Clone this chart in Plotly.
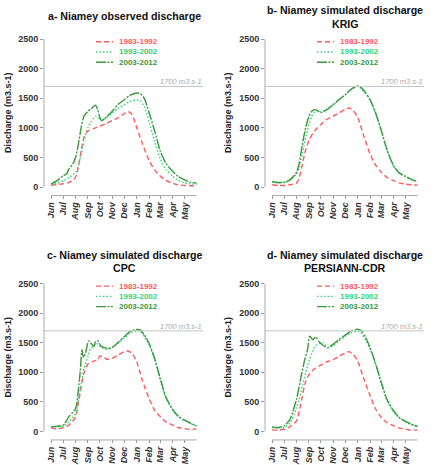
import plotly.graph_objects as go
import pandas as pd

# ---------------- data ----------------
MONTH_LABELS = ["Jun", "Jul", "Aug", "Sep", "Oct", "Nov", "Dec", "Jan", "Feb", "Mar", "Apr", "May"]
MONTH_NUMS = [6, 7, 8, 9, 10, 11, 12, 1, 2, 3, 4, 5]
Y_TICKS = [0, 500, 1000, 1500, 2000, 2500]
THRESHOLD = 1700
PERIODS = ["1983-1992", "1993-2002", "2003-2012"]

# Panel a - observed
a_red_dates = ["06-01", "06-15", "07-01", "07-15", "07-25", "08-01", "08-08", "08-15", "08-22", "09-01", "09-15", "10-01", "10-15",
               "11-01", "11-15", "12-01", "12-10", "12-20", "01-01", "01-15", "02-01", "02-15", "03-01", "03-15", "04-01", "04-15",
               "05-01", "05-15", "05-31"]
a_red_vals = [28, 45, 56, 78, 111, 167, 334, 613, 836, 947, 986, 1030, 1070,
              1125, 1170, 1242, 1275, 1230, 1010, 740, 450, 290, 185, 115, 67, 39,
              28, 22, 25]
a_lg_dates = ["06-01", "06-15", "07-01", "07-15", "08-01", "08-08", "08-15", "08-22", "09-01", "09-10", "09-20", "10-01", "10-05",
              "10-15", "11-01", "11-15", "12-01", "12-15", "01-01", "01-10", "01-20", "02-01", "02-15", "03-01", "03-15", "04-01",
              "04-15", "05-01", "05-15", "05-31"]
a_lg_vals = [45, 67, 105, 160, 250, 362, 557, 780, 1003, 1114, 1195, 1145, 1125,
             1165, 1250, 1325, 1393, 1448, 1470, 1455, 1360, 1100, 770, 480, 300, 184,
             111, 72, 56, 45]
a_dg_dates = ["06-01", "06-15", "07-01", "07-10", "07-15", "07-25", "08-01", "08-08", "08-15", "08-22", "09-01", "09-10", "09-15",
              "09-20", "09-25", "10-01", "10-05", "10-15", "11-01", "11-15", "12-01", "12-15", "01-01", "01-10", "01-20", "02-01",
              "02-15", "03-01", "03-15", "04-01", "04-15", "05-01", "05-15", "05-31"]
a_dg_vals = [56, 105, 190, 225, 300, 390, 500, 724, 1003, 1198, 1281, 1326, 1360,
             1385, 1310, 1170, 1125, 1170, 1281, 1393, 1476, 1549, 1590, 1577, 1500, 1260,
             950, 610, 405, 267, 178, 123, 84, 67]

# Panel b - KRIG
b_red_dates = ["06-01", "06-15", "07-01", "07-15", "08-01", "08-08", "08-15", "08-22", "09-01", "09-15", "10-01", "10-15", "11-01",
               "11-15", "12-01", "12-10", "12-20", "01-01", "01-15", "02-01", "02-15", "03-01", "03-15", "04-01", "04-15", "05-01",
               "05-15", "05-31"]
b_red_vals = [39, 28, 28, 39, 67, 167, 362, 585, 790, 947, 1058, 1142, 1198,
              1253, 1309, 1337, 1295, 1180, 890, 560, 370, 251, 167, 111, 72, 50,
              39, 33]
b_lg_dates = ["06-01", "06-15", "07-01", "07-15", "08-01", "08-08", "08-15", "08-22", "09-01", "09-10", "09-15", "09-20", "10-01",
              "10-15", "11-01", "11-15", "12-01", "12-15", "01-01", "01-10", "01-20", "02-01", "02-15", "03-01", "03-15", "04-01",
              "04-15", "05-01", "05-15", "05-31"]
b_lg_vals = [84, 72, 78, 111, 223, 334, 557, 780, 1058, 1225, 1270, 1292, 1270,
             1309, 1393, 1476, 1560, 1643, 1700, 1665, 1590, 1470, 1240, 950, 630, 350,
             235, 175, 128, 90]
b_dg_dates = ["06-01", "06-15", "07-01", "07-15", "08-01", "08-08", "08-15", "08-22", "09-01", "09-08", "09-15", "09-20", "10-01",
              "10-15", "11-01", "11-15", "12-01", "12-15", "01-01", "01-10", "01-20", "02-01", "02-15", "03-01", "03-15", "04-01",
              "04-15", "05-01", "05-15", "05-31"]
b_dg_vals = [95, 78, 84, 123, 250, 418, 696, 947, 1198, 1281, 1309, 1300, 1260,
             1304, 1393, 1476, 1560, 1650, 1710, 1680, 1600, 1480, 1250, 960, 640, 360,
             240, 180, 132, 92]

# Panel c - CPC
c_red_dates = ["06-01", "06-15", "07-01", "07-15", "08-01", "08-08", "08-15", "08-22", "09-01", "09-15", "09-25", "10-01", "10-10",
               "10-20", "11-01", "11-15", "12-01", "12-10", "12-20", "01-01", "01-15", "02-01", "02-15", "03-01", "03-15", "04-01",
               "04-15", "05-01", "05-15", "05-31"]
c_red_vals = [68, 40, 68, 107, 248, 474, 756, 982, 1140, 1190, 1208, 1275, 1253,
              1219, 1236, 1292, 1349, 1360, 1320, 1179, 869, 559, 361, 248, 164, 107,
              68, 51, 34, 45]
c_lg_dates = ["06-01", "06-15", "07-01", "07-15", "08-01", "08-08", "08-15", "08-22", "09-01", "09-08", "09-15", "09-22", "10-01",
              "10-10", "10-20", "11-01", "11-15", "12-01", "12-15", "01-01", "01-10", "01-20", "02-01", "02-15", "03-01", "03-15",
              "04-01", "04-15", "05-01", "05-15", "05-31"]
c_lg_vals = [68, 79, 90, 164, 305, 530, 813, 1067, 1264, 1405, 1433, 1490, 1433,
             1405, 1388, 1422, 1490, 1574, 1659, 1704, 1687, 1603, 1462, 1208, 869, 559,
             361, 248, 181, 135, 90]
c_dg_dates = ["06-01", "06-15", "07-01", "07-15", "08-01", "08-08", "08-13", "08-17", "08-21", "08-26", "09-03", "09-11", "09-16",
              "09-20", "09-26", "10-03", "10-10", "10-20", "11-01", "11-15", "12-01", "12-15", "01-01", "01-10", "01-20", "02-01",
              "02-15", "03-01", "03-15", "04-01", "04-15", "05-01", "05-15", "05-31"]
c_dg_vals = [79, 90, 107, 248, 389, 700, 1038, 1380, 1250, 1330, 1530, 1470, 1440,
             1518, 1530, 1450, 1422, 1405, 1422, 1501, 1603, 1687, 1725, 1715, 1631, 1490,
             1236, 897, 587, 372, 260, 192, 147, 96]

# Panel d - PERSIANN-CDR
d_red_dates = ["06-01", "06-15", "07-01", "07-15", "08-01", "08-08", "08-15", "08-22", "09-01", "09-15", "10-01", "10-15", "11-01",
               "11-15", "12-01", "12-10", "12-20", "01-01", "01-15", "02-01", "02-15", "03-01", "03-15", "04-01", "04-15", "05-01",
               "05-15", "05-31"]
d_red_vals = [28, 23, 40, 79, 181, 352, 578, 805, 960, 1060, 1120, 1174, 1215,
              1270, 1327, 1349, 1304, 1190, 918, 607, 380, 238, 153, 96, 57, 40,
              23, 28]
d_lg_dates = ["06-01", "06-15", "07-01", "07-15", "08-01", "08-17", "09-03", "09-19", "10-06", "10-20", "11-01", "11-15", "12-01",
              "12-15", "01-01", "01-10", "01-20", "02-01", "02-15", "03-01", "03-15", "04-01", "04-15", "05-01", "05-15", "05-31"]
d_lg_vals = [68, 57, 68, 140, 400, 805, 1230, 1457, 1500, 1420, 1455, 1531, 1610,
             1667, 1695, 1656, 1560, 1390, 1130, 820, 530, 330, 230, 160, 115, 79]
d_dg_dates = ["06-01", "06-15", "07-01", "07-15", "08-01", "08-13", "08-21", "08-29", "09-03", "09-11", "09-18", "09-25", "10-05",
              "10-18", "11-01", "11-15", "12-01", "12-15", "01-01", "01-10", "01-20", "02-01", "02-15", "03-01", "03-15", "04-01",
              "04-15", "05-01", "05-15", "05-31"]
d_dg_vals = [79, 68, 96, 200, 550, 950, 1200, 1400, 1610, 1550, 1600, 1530, 1460,
             1415, 1475, 1553, 1627, 1695, 1729, 1701, 1599, 1418, 1145, 833, 550, 352,
             238, 170, 125, 85]

TITLES = ["a- Niamey observed discharge",
          "b- Niamey simulated discharge<br>KRIG",
          "c- Niamey simulated discharge<br>CPC",
          "d- Niamey simulated discharge<br>PERSIANN-CDR"]
Y_TITLE = "Discharge (m3.s-1)"

# ---------------- helpers ----------------
def to_date(md):
    m = int(md[:2])
    year = 2001 if m >= 6 else 2002
    return f"{year}-{md}"

month_ticks = [to_date(f"{m:02d}-01") for m in MONTH_NUMS]
start = pd.Timestamp(month_ticks[0])
x_range = [(start - pd.Timedelta(days=18)).strftime("%Y-%m-%d"),
           (start + pd.Timedelta(days=380)).strftime("%Y-%m-%d")]
year_end = to_date("05-31")

RED = "#ff5a5f"
LGREEN = "#2fd27a"
DGREEN = "#3a983a"
COLORS = [RED, LGREEN, DGREEN]
DASHES = ["5px,3px", "1.5px,2px", "10px,1.5px,2px,1.5px"]

panels = [
    [(a_red_dates, a_red_vals), (a_lg_dates, a_lg_vals), (a_dg_dates, a_dg_vals)],
    [(b_red_dates, b_red_vals), (b_lg_dates, b_lg_vals), (b_dg_dates, b_dg_vals)],
    [(c_red_dates, c_red_vals), (c_lg_dates, c_lg_vals), (c_dg_dates, c_dg_vals)],
    [(d_red_dates, d_red_vals), (d_lg_dates, d_lg_vals), (d_dg_dates, d_dg_vals)],
]

W, H = 446, 465
FONT = "Liberation Sans, Arial, sans-serif"
# pixel layout of each panel: (left, right, top, bottom)
boxes = [(44, 203, 33, 196), (265, 424, 33, 196), (44, 203, 279, 442), (265, 424, 279, 442)]
title_pos = [(125, [16]), (345, [10, 24]), (125, [257, 270]), (345, [257, 270])]
ytitle_x = [8, 228, 8, 228]

fig = go.Figure()
layout = dict(width=W, height=H, margin=dict(l=0, r=0, t=0, b=0),
              paper_bgcolor="white", plot_bgcolor="white",
              font=dict(family=FONT, color="#222"), showlegend=False)
shapes, annotations = [], []

for i, (series, box) in enumerate(zip(panels, boxes)):
    k = "" if i == 0 else str(i + 1)
    xa, ya = "x" + k, "y" + k
    l, r, t, b = box
    for (dates, vals), col, dash in zip(series, COLORS, DASHES):
        fig.add_trace(go.Scatter(
            x=[to_date(d) for d in dates], y=vals, mode="lines",
            line=dict(color=col, width=1.4, dash=dash, shape="spline", smoothing=0.7),
            xaxis=xa, yaxis=ya, hoverinfo="skip"))
    layout["xaxis" + k] = dict(
        domain=[l / W, r / W], anchor=ya, type="date", range=x_range,
        tickmode="array", tickvals=month_ticks, ticktext=MONTH_LABELS, tickangle=-90,
        ticks="outside", ticklen=3, tickcolor="#999", tickwidth=1,
        tickfont=dict(size=9, color="#333", style="italic", weight="bold", family=FONT),
        showgrid=False, zeroline=False, showline=False)
    layout["yaxis" + k] = dict(
        domain=[1 - b / H, 1 - t / H], anchor=xa, range=[-129, 2606],
        tickmode="array", tickvals=Y_TICKS, ticks="outside", ticklen=3,
        tickcolor="#999", tickwidth=1,
        tickfont=dict(size=9, color="#333", weight="bold", family=FONT),
        showgrid=False, zeroline=False, showline=False)

    # axis lines
    shapes.append(dict(type="line", xref=xa + " domain", yref=ya, x0=0, x1=0,
                       y0=Y_TICKS[0], y1=Y_TICKS[-1], line=dict(color="#aaa", width=1)))
    shapes.append(dict(type="line", xref=xa, yref=ya + " domain", x0=month_ticks[0], x1=year_end,
                       y0=-0.005, y1=-0.005, line=dict(color="#aaa", width=1)))
    # threshold line
    shapes.append(dict(type="line", xref=xa + " domain", yref=ya, x0=0, x1=1,
                       y0=THRESHOLD, y1=THRESHOLD, line=dict(color="#c4c4c4", width=1)))
    annotations.append(dict(xref=xa + " domain", yref=ya, x=1.0, y=THRESHOLD,
                            xanchor="right", yanchor="bottom", showarrow=False,
                            text=f"<i>{THRESHOLD} m3.s-1</i>", borderpad=0, yshift=-1,
                            font=dict(size=7.5, color="#aaa", family=FONT)))
    # legend (drawn inside each panel)
    ph = b - t
    pw = r - l
    for j, (name, col, dash) in enumerate(zip(PERIODS, COLORS, DASHES)):
        yy = 1 - (9 + 10.3 * j) / ph
        shapes.append(dict(type="line", xref=xa + " domain", yref=ya + " domain",
                           x0=52 / pw, x1=69 / pw, y0=yy, y1=yy,
                           line=dict(color=col, width=1.4, dash=dash)))
        annotations.append(dict(xref=xa + " domain", yref=ya + " domain", x=74 / pw, y=yy,
                                xanchor="left", yanchor="middle", showarrow=False,
                                text=f"<b>{name}</b>", borderpad=0,
                                font=dict(size=8, color=col, family=FONT)))
    # titles
    cx, ys = title_pos[i]
    lines = TITLES[i].split("<br>")
    for line, yp in zip(lines, ys):
        annotations.append(dict(xref="paper", yref="paper", x=cx / W, y=1 - yp / H,
                                xanchor="center", yanchor="middle", showarrow=False,
                                text=f"<b>{line}</b>", borderpad=0,
                                font=dict(size=10.6, color="#111", family=FONT)))
    # y-axis title
    annotations.append(dict(xref="paper", yref=ya, x=ytitle_x[i] / W, y=1250,
                            xanchor="center", yanchor="middle", showarrow=False,
                            textangle=-90, text=f"<b>{Y_TITLE}</b>", borderpad=0,
                            font=dict(size=9, color="#222", family=FONT)))

layout["shapes"] = shapes
layout["annotations"] = annotations
fig.update_layout(**layout)
fig.write_html("out.html", config={"displayModeBar": False, "staticPlot": True},
               post_script="document.body.style.margin='0';document.body.style.overflow='hidden';")
